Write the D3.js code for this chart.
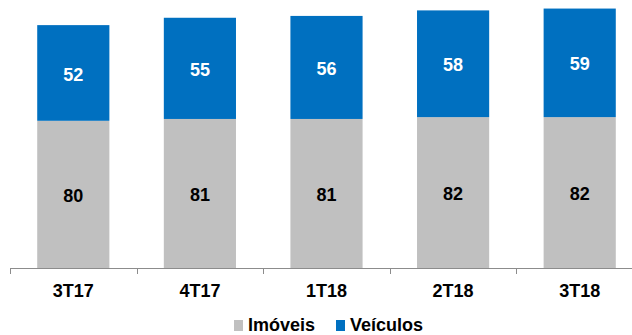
<!DOCTYPE html>
<html>
<head>
<meta charset="utf-8">
<script src="https://cdn.jsdelivr.net/npm/d3@7"></script>
<style>
  body { margin: 0; background: #fff; }
  text { font-family: "Liberation Sans", Arial, sans-serif; font-weight: bold; }
</style>
</head>
<body>
<div id="chart"></div>
<script>
// data
var quarters = ["3T17", "4T17", "1T18", "2T18", "3T18"];
var imoveis = [80, 81, 81, 82, 82];
var veiculos = [52, 55, 56, 58, 59];
var seriesNames = ["Imóveis", "Veículos"];
var seriesColors = ["#c0c0c0", "#0070c0"];

var width = 632, height = 335;

var svg = d3.select("#chart").append("svg")
    .attr("width", width)
    .attr("height", height);

// band scale runs a bit past the right edge, like the original crop
var x = d3.scaleBand()
    .domain(quarters)
    .range([10, 643])
    .paddingInner(0.43)
    .paddingOuter(0.215);

var y = d3.scaleLinear()
    .domain([0, 150])
    .range([268, -8]);

var rows = quarters.map(function (q, i) {
    return { q: q, Imóveis: imoveis[i], Veículos: veiculos[i] };
});
var stacked = d3.stack().keys(seriesNames)(rows);

var layers = svg.selectAll("g.layer")
    .data(stacked)
    .enter().append("g")
    .attr("class", "layer");

layers.selectAll("rect")
    .data(function (d, i) { return d.map(function (p) { return { p: p, i: i }; }); })
    .enter().append("rect")
    .attr("x", function (d) { return x(d.p.data.q); })
    .attr("width", x.bandwidth())
    .attr("y", function (d) { return y(d.p[1]); })
    .attr("height", function (d) { return y(d.p[0]) - y(d.p[1]); })
    .attr("fill", function (d) { return seriesColors[d.i]; });

// value labels
layers.selectAll("text")
    .data(function (d, i) { return d.map(function (p) { return { p: p, i: i }; }); })
    .enter().append("text")
    .attr("x", function (d) { return x(d.p.data.q) + x.bandwidth() / 2; })
    .attr("y", function (d) { return (y(d.p[0]) + y(d.p[1])) / 2; })
    .attr("dy", "0.42em")
    .attr("text-anchor", "middle")
    .attr("font-size", 18)
    .attr("fill", function (d) { return d.i ? "#fff" : "#000"; })
    .text(function (d) { return d.p[1] - d.p[0]; });

// x axis: line with ticks between categories
var step = x.step();
var axis = svg.append("g");
axis.append("line")
    .attr("x1", 10).attr("x2", width)
    .attr("y1", 268.5).attr("y2", 268.5)
    .attr("stroke", "#8c8c8c");
axis.selectAll("line.tick")
    .data(quarters)
    .enter().append("line")
    .attr("class", "tick")
    .attr("x1", function (q, i) { return Math.round(10 + i * step) + 0.5; })
    .attr("x2", function (q, i) { return Math.round(10 + i * step) + 0.5; })
    .attr("y1", 268).attr("y2", 274)
    .attr("stroke", "#8c8c8c");

axis.selectAll("text")
    .data(quarters)
    .enter().append("text")
    .attr("x", function (q) { return x(q) + x.bandwidth() / 2; })
    .attr("y", 297)
    .attr("text-anchor", "middle")
    .attr("font-size", 18)
    .attr("fill", "#000")
    .text(function (q) { return q; });

// legend (nudged up a little so the text is not clipped at the bottom)
var legendX = [234, 336];
var legend = svg.selectAll("g.legend")
    .data(seriesNames)
    .enter().append("g")
    .attr("class", "legend")
    .attr("transform", function (d, i) { return "translate(" + legendX[i] + ",0)"; });
legend.append("rect")
    .attr("x", 0).attr("y", 320)
    .attr("width", 9).attr("height", 11)
    .attr("fill", function (d, i) { return seriesColors[i]; });
legend.append("text")
    .attr("x", 14).attr("y", 331)
    .attr("font-size", 18)
    .attr("fill", "#000")
    .text(function (d) { return d; });
</script>
</body>
</html>
